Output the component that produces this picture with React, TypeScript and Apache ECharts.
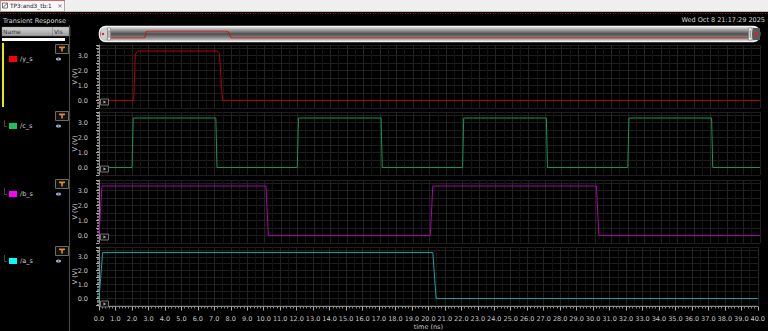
import React, { useEffect, useRef } from "react";
import * as echarts from "echarts";

// ---- Data ----
const signalNames = ["/y_s", "/c_s", "/b_s", "/a_s"];
const lineColors = ["#b80000", "#0f9a4e", "#b000b0", "#17a7a7"];
const swatchColors = ["#ff0000", "#17c45c", "#ff00ff", "#00ffff"];

const timeY = [0, 2.1, 2.2, 2.32, 2.45, 7.15, 7.28, 7.48, 40];
const voltY = [0, 0, 3.1, 3.28, 3.3, 3.3, 3.15, 0, 0];

const timeC = [0, 2.0, 2.07, 7.07, 7.14, 12.0, 12.07, 17.07, 17.14, 22.0, 22.07, 27.07, 27.14, 32.0, 32.07, 37.07, 37.14, 40];
const voltC = [0, 0, 3.3, 3.3, 0, 0, 3.3, 3.3, 0, 0, 3.3, 3.3, 0, 0, 3.3, 3.3, 0, 0];

const timeB = [0, 0.18, 10.1, 10.25, 20.05, 20.2, 30.1, 30.25, 40];
const voltB = [0, 3.3, 3.3, 0, 0, 3.3, 3.3, 0, 0];

const timeA = [0, 0.22, 20.27, 20.47, 40];
const voltA = [0, 3.3, 3.3, 0, 0];

const waveTimes = [timeY, timeC, timeB, timeA];
const waveVolts = [voltY, voltC, voltB, voltA];

const timeTicksMin = 0;
const timeTicksMax = 40;
const voltMin = -0.5;
const voltMax = 3.7;

// ---- Layout ----
const panelTops = [45, 112, 180, 247];
const panelHeight = 63;
const plotLeft = 99;
const plotRight = 8;
const FONT = "DejaVu Sans";

const zip = (t: number[], v: number[]) => t.map((x, i) => [x, v[i]]);

export default function App() {
  const ref = useRef<HTMLDivElement>(null);
  useEffect(() => {
    if (!ref.current) return;
    const chart = echarts.init(ref.current, null, { renderer: "svg" });

    const grids: any[] = panelTops.map((top) => ({
      left: plotLeft,
      right: plotRight,
      top,
      height: panelHeight,
      containLabel: false,
    }));
    // overview strip
    grids.push({ left: 111, right: 15, top: 31, height: 7 });

    const xAxes: any[] = panelTops.map((_, i) => ({
      type: "value",
      gridIndex: i,
      min: timeTicksMin,
      max: timeTicksMax,
      interval: 1,
      axisLine: { show: false },
      axisTick: { show: false },
      axisLabel: { show: false },
      minorTick: { show: true, splitNumber: 2, length: 0 },
      splitLine: { show: true, lineStyle: { color: "#222222", width: 1 } },
      minorSplitLine: { show: true, lineStyle: { color: "#141414", width: 1 } },
    }));
    // ruler axis under the last panel
    xAxes.push({
      type: "value",
      gridIndex: 3,
      position: "bottom",
      min: timeTicksMin,
      max: timeTicksMax,
      interval: 1,
      offset: 1,
      axisLine: { show: true, lineStyle: { color: "#8a8a8a", width: 1 } },
      axisTick: { show: true, length: 4, lineStyle: { color: "#aaa" } },
      minorTick: { show: true, splitNumber: 5, length: 2, lineStyle: { color: "#888" } },
      axisLabel: {
        show: true,
        color: "#c8c8c8",
        fontSize: 6.5,
        fontFamily: FONT,
        margin: 8.5,
        formatter: (v: number) => v.toFixed(1),
      },
      splitLine: { show: false },
      name: "time (ns)",
      nameLocation: "middle",
      nameGap: 16.5,
      nameMoveOverlap: false,
      nameTextStyle: { color: "#c8c8c8", fontSize: 6.5, fontFamily: FONT },
    });
    // overview x axis
    xAxes.push({ type: "value", gridIndex: 4, min: 0, max: 40, show: false });

    const yAxes: any[] = panelTops.map((_, i) => ({
      type: "value",
      gridIndex: i,
      min: voltMin,
      max: voltMax,
      interval: 0.5,
      offset: 6,
      axisLine: { show: true, lineStyle: { color: "#8a8a8a", width: 1 } },
      axisTick: { show: true, length: 3, lineStyle: { color: "#aaa" } },
      minorTick: { show: true, splitNumber: 5, length: 2, lineStyle: { color: "#777" } },
      axisLabel: {
        color: "#c8c8c8",
        fontSize: 6.5,
        fontFamily: FONT,
        margin: 5,
        formatter: (v: number) => (Math.abs(v - Math.round(v)) < 1e-6 ? v.toFixed(1) : ""),
      },
      splitLine: { show: true, lineStyle: { color: "#1e1e1e", width: 1 } },
      name: "V (V)",
      nameLocation: "middle",
      nameGap: 15,
      nameRotate: 90,
      nameMoveOverlap: false,
      nameTextStyle: { color: "#c8c8c8", fontSize: 6.5, fontFamily: FONT },
    }));
    yAxes.push({ type: "value", gridIndex: 4, min: 0, max: 3.3, show: false });

    const series: any[] = waveTimes.map((t, i) => ({
      type: "line",
      xAxisIndex: i,
      yAxisIndex: i,
      data: zip(t, waveVolts[i]),
      showSymbol: false,
      symbol: "none",
      lineStyle: { color: lineColors[i], width: 1 },
      z: 3,
    }));
    series.push({
      type: "line",
      xAxisIndex: 5,
      yAxisIndex: 4,
      data: zip(timeY, voltY),
      symbol: "none",
      lineStyle: { color: "#d01010", width: 1 },
      z: 5,
    });

    const g: any[] = [];
    // top title bar
    g.push({ type: "rect", shape: { x: 0, y: 0, width: 768, height: 11 }, style: { fill: "#efefef" }, z: 20 });
    g.push({ type: "rect", shape: { x: 0.5, y: 0.5, width: 64, height: 11 }, style: { fill: "#f8f8f8", stroke: "#a8a8a8", lineWidth: 1 }, z: 21 });
    g.push({ type: "line", shape: { x1: 0, y1: 0.5, x2: 65, y2: 0.5 }, style: { stroke: "#e06060", lineWidth: 1 }, z: 22 });
    g.push({ type: "rect", shape: { x: 2.5, y: 3, width: 5, height: 5 }, style: { fill: "#fff", stroke: "#555", lineWidth: 0.8 }, z: 22 });
    g.push({ type: "line", shape: { x1: 3, y1: 7.5, x2: 7, y2: 3.5 }, style: { stroke: "#333", lineWidth: 0.8 }, z: 22 });
    g.push({ type: "text", x: 10, y: 6, style: { text: "TP3:and3_tb:1", fill: "#222", fontSize: 5.8, fontFamily: FONT, verticalAlign: "middle" }, z: 22 });
    g.push({ type: "text", x: 60, y: 6, style: { text: "×", fill: "#666", fontSize: 6.5, fontFamily: FONT, verticalAlign: "middle", align: "center" }, z: 22 });
    g.push({ type: "line", shape: { x1: 0, y1: 11.5, x2: 768, y2: 11.5 }, style: { stroke: "#bdbdbd", lineWidth: 1 }, z: 20 });
    g.push({ type: "line", shape: { x1: 0, y1: 13.5, x2: 768, y2: 13.5 }, style: { stroke: "#a01818", lineWidth: 1, lineDash: [1, 1.5] }, z: 20 });

    g.push({ type: "text", x: 3, y: 20.5, style: { text: "Transient Response", fill: "#d8d8d8", fontSize: 6.5, fontFamily: FONT, verticalAlign: "middle" }, z: 20 });
    g.push({ type: "text", x: 765, y: 20, style: { text: "Wed Oct 8 21:17:29 2025", fill: "#d8d8d8", fontSize: 6.5, fontFamily: FONT, verticalAlign: "middle", align: "right" }, z: 20 });

    // left panel header
    g.push({
      type: "rect",
      shape: { x: 2, y: 27, width: 68, height: 9 },
      style: {
        fill: new echarts.graphic.LinearGradient(0, 0, 0, 1, [
          { offset: 0, color: "#d6d6d6" },
          { offset: 1, color: "#9c9c9c" },
        ]),
        stroke: "#777",
        lineWidth: 0.5,
      },
      z: 20,
    });
    g.push({ type: "line", shape: { x1: 52.5, y1: 27, x2: 52.5, y2: 36 }, style: { stroke: "#777", lineWidth: 0.5 }, z: 21 });
    g.push({ type: "text", x: 3, y: 31.5, style: { text: "Name", fill: "#333", fontSize: 6, fontFamily: FONT, verticalAlign: "middle" }, z: 21 });
    g.push({ type: "text", x: 54, y: 31.5, style: { text: "Vis", fill: "#333", fontSize: 6, fontFamily: FONT, verticalAlign: "middle" }, z: 21 });
    g.push({ type: "rect", shape: { x: 2, y: 38, width: 63, height: 3 }, style: { fill: "#ffffff" }, z: 20 });
    g.push({ type: "rect", shape: { x: 2, y: 43, width: 2, height: 64 }, style: { fill: "#e8e800" }, z: 20 });
    g.push({ type: "line", shape: { x1: 69.5, y1: 25, x2: 69.5, y2: 331 }, style: { stroke: "#4a4a4a", lineWidth: 1.2 }, z: 20 });

    panelTops.forEach((top, i) => {
      // filter button
      g.push({ type: "rect", shape: { x: 55.5, y: top - 0.5, width: 13, height: 9 }, style: { fill: "#111", stroke: "#6a6a6a", lineWidth: 1 }, z: 20 });
      g.push({
        type: "polygon",
        shape: { points: [[59, top + 1.5], [65, top + 1.5], [65, top + 3], [62.8, top + 3.5], [62.8, top + 6.5], [61.2, top + 6.5], [61.2, top + 3.5], [59, top + 3]] },
        style: { fill: "#e0882a" },
        z: 21,
      });
      // tree line
      if (i > 0) {
        g.push({ type: "polyline", shape: { points: [[4.5, top + 8], [4.5, top + 14.5], [7, top + 14.5]] }, style: { stroke: "#555", lineWidth: 0.8, fill: null }, z: 20 });
      }
      // swatch + label
      g.push({ type: "rect", shape: { x: 9, y: top + 11, width: 8, height: 6 }, style: { fill: swatchColors[i] }, z: 20 });
      g.push({ type: "text", x: 20, y: top + 14, style: { text: signalNames[i], fill: "#cfcfcf", fontSize: 6.5, fontFamily: FONT, verticalAlign: "middle" }, z: 20 });
      // eye icon
      g.push({ type: "ellipse", shape: { cx: 58.5, cy: top + 14, rx: 2.6, ry: 1.6 }, style: { fill: "#a8bcd8" }, z: 20 });
      g.push({ type: "circle", shape: { cx: 58.5, cy: top + 14, r: 0.8 }, style: { fill: "#4a6a9a" }, z: 21 });
      // small marker box in plot corner
      const zy = top + 55;
      g.push({ type: "rect", shape: { x: 100.5, y: zy - 1, width: 8, height: 6 }, style: { fill: "#111", stroke: "#8a8a8a", lineWidth: 0.8 }, z: 20 });
      g.push({ type: "polygon", shape: { points: [[103.5, zy + 0.5], [106, zy + 2], [103.5, zy + 3.5]] }, style: { fill: "#bbb" }, z: 21 });
    });

    // overview bar
    g.push({
      type: "rect",
      shape: { x: 99.5, y: 26.5, width: 660, height: 15, r: 6 },
      style: {
        fill: new echarts.graphic.LinearGradient(0, 0, 0, 1, [
          { offset: 0, color: "#e6e6e6" },
          { offset: 0.25, color: "#9a9a9a" },
          { offset: 0.5, color: "#4e4e4e" },
          { offset: 0.75, color: "#8a8a8a" },
          { offset: 1, color: "#d8d8d8" },
        ]),
        stroke: "#f2f2f2",
        lineWidth: 1.5,
      },
      z: 0,
    });
    g.push({ type: "rect", shape: { x: 101, y: 28, width: 6, height: 12, r: 3 }, style: { fill: "#d0d0d0" }, z: 10 });
    g.push({ type: "circle", shape: { cx: 103, cy: 34, r: 1.2 }, style: { fill: "#e02020" }, z: 11 });
    g.push({ type: "rect", shape: { x: 107.5, y: 28, width: 3, height: 12 }, style: { fill: "#f4f4f4", stroke: "#666", lineWidth: 0.5 }, z: 10 });
    g.push({ type: "line", shape: { x1: 109, y1: 30, x2: 109, y2: 38 }, style: { stroke: "#555", lineWidth: 0.8 }, z: 11 });
    g.push({ type: "rect", shape: { x: 748.5, y: 28, width: 3.5, height: 12 }, style: { fill: "#f4f4f4", stroke: "#666", lineWidth: 0.5 }, z: 10 });
    g.push({ type: "line", shape: { x1: 750.2, y1: 30, x2: 750.2, y2: 38 }, style: { stroke: "#555", lineWidth: 0.8 }, z: 11 });
    g.push({ type: "rect", shape: { x: 753, y: 28, width: 7, height: 12 }, style: { fill: "#5a5a5a" }, z: 10 });
    g.push({ type: "polygon", shape: { points: [[755, 31.5], [758.5, 34], [755, 36.5]] }, style: { fill: "#e02020" }, z: 11 });

    chart.setOption({
      backgroundColor: "#000000",
      animation: false,
      textStyle: { fontFamily: FONT },
      grid: grids,
      xAxis: xAxes,
      yAxis: yAxes,
      series,
      graphic: g,
    });
    return () => chart.dispose();
  }, []);

  return (
    <div
      ref={ref}
      style={{ position: "fixed", left: 0, top: 0, width: 768, height: 331, background: "#000" }}
    />
  );
}
